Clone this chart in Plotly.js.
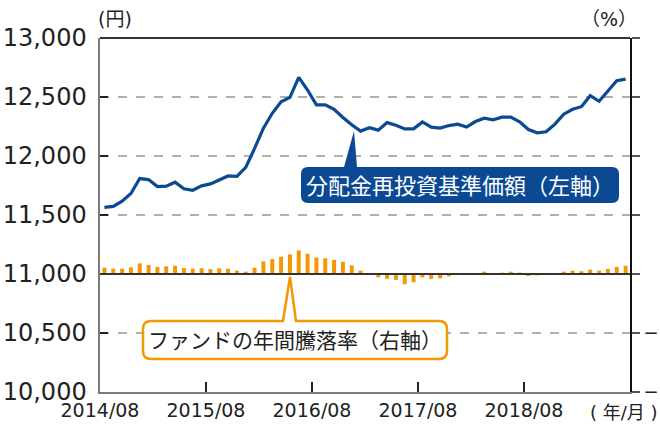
<!DOCTYPE html>
<html>
<head>
<meta charset="utf-8">
<script src="https://cdn.plot.ly/plotly-3.0.1.min.js"></script>
<style>html,body{margin:0;padding:0;background:#fff;}#chart{width:660px;height:425px;}</style>
</head>
<body>
<div id="chart"></div>
<script>
// ---- data ----
const months = [
 "2014/08","2014/09","2014/10","2014/11","2014/12","2015/01","2015/02","2015/03","2015/04","2015/05","2015/06","2015/07",
 "2015/08","2015/09","2015/10","2015/11","2015/12","2016/01","2016/02","2016/03","2016/04","2016/05","2016/06","2016/07",
 "2016/08","2016/09","2016/10","2016/11","2016/12","2017/01","2017/02","2017/03","2017/04","2017/05","2017/06","2017/07",
 "2017/08","2017/09","2017/10","2017/11","2017/12","2018/01","2018/02","2018/03","2018/04","2018/05","2018/06","2018/07",
 "2018/08","2018/09","2018/10","2018/11","2018/12","2019/01","2019/02","2019/03","2019/04","2019/05","2019/06","2019/07"
];
const navValues = [
 11564,11573,11617,11682,11809,11800,11741,11745,11778,11722,11710,11747,
 11764,11795,11831,11828,11904,12064,12236,12362,12460,12497,12666,12559,
 12433,12433,12396,12326,12264,12211,12239,12219,12283,12261,12230,12230,
 12289,12245,12236,12258,12270,12245,12292,12320,12306,12329,12329,12289,
 12224,12196,12205,12270,12354,12396,12418,12511,12464,12551,12638,12652
];
const returnValues = [
 1.6,1.35,1.35,1.7,2.7,2.3,1.8,1.95,2.1,1.5,1.35,1.45,
 1.25,1.45,1.35,0.85,0.6,1.6,3.2,3.8,4.4,5.0,6.0,5.15,
 4.2,4.0,3.6,3.1,2.2,0.85,0,-0.85,-1.2,-1.5,-2.6,-2.1,
 -0.85,-1.25,-1.1,-0.6,0,0.1,0.25,0.6,0.1,0.35,0.6,0.35,
 -0.5,-0.35,-0.25,0,0.6,0.85,0.7,1.1,0.85,1.3,1.8,2.1
];
const xTickLabels = ["2014/08","2015/08","2016/08","2017/08","2018/08"];
const leftTicks = [10000,10500,11000,11500,12000,12500,13000];
const rightTicks = [-30,-15,0,15,30,45,60];
const rightTickText = ["−","−","","","","",""];
const navName = "分配金再投資基準価額（左軸）";
const retName = "ファンドの年間騰落率（右軸）";

// ---- layout helpers (pixel -> data units for callout decorations) ----
const W = 660, H = 425, L = 100, R = 630, T = 38, B = 392;
const XMAX = months.length;
const px2x = p => (p - L) / (R - L) * XMAX;
const px2y = p => 13000 - (p - T) / (B - T) * 3000;
function pathFrom(pts) {
  let s = "";
  pts.forEach(p => {
    if (p[0] === "Z") { s += " Z"; return; }
    if (p[0] === "Q") { s += ` Q${px2x(p[1])},${px2y(p[2])} ${px2x(p[3])},${px2y(p[4])}`; return; }
    s += ` ${p[0]}${px2x(p[1])},${px2y(p[2])}`;
  });
  return s.trim();
}
function callout(l, r, t, b, rad, baseL, baseR, tipX, tipY) {
  return pathFrom([
    ["M", l + rad, t], ["L", baseL, t], ["L", tipX, tipY], ["L", baseR, t], ["L", r - rad, t],
    ["Q", r, t, r, t + rad], ["L", r, b - rad], ["Q", r, b, r - rad, b],
    ["L", l + rad, b], ["Q", l, b, l, b - rad], ["L", l, t + rad], ["Q", l, t, l + rad, t], ["Z"]
  ]);
}
const pxPaperX = p => (p - L) / (R - L);
const pxPaperY = p => (B - p) / (B - T);

const xs = months.map((m, i) => i + 0.5);
const FONT = "DejaVu Sans, Noto Sans CJK JP, sans-serif";
const BLUE = "#0b4a93", ORANGE = "#f39800";

const traces = [
  { type: "bar", x: xs, y: returnValues, yaxis: "y2", width: 0.45,
    marker: { color: ORANGE }, name: retName, hoverinfo: "skip" },
  { type: "scatter", mode: "lines", x: xs, y: navValues, yaxis: "y",
    line: { color: BLUE, width: 3.2 }, name: navName, hoverinfo: "skip" }
];

const layout = {
  width: W, height: H,
  margin: { l: L, r: W - R, t: T, b: H - B, pad: 0 },
  paper_bgcolor: "#fff", plot_bgcolor: "#fff",
  showlegend: false,
  font: { family: FONT, color: "#222" },
  xaxis: {
    range: [0, XMAX], tickvals: [0, 12, 24, 36, 48], ticktext: xTickLabels,
    ticks: "inside", ticklen: 10, tickwidth: 1.5, tickcolor: "#222",
    showline: true, linecolor: "#7a7a7a", linewidth: 2,
    showgrid: false, zeroline: false, tickfont: { size: 19, family: FONT, color: "#222" }
  },
  yaxis: {
    range: [10000, 13000], tickvals: leftTicks, tickformat: ",d",
    ticks: "inside", ticklen: 8, tickwidth: 2, tickcolor: "#222",
    showline: true, linecolor: "#7a7a7a", linewidth: 2.5,
    showgrid: true, gridcolor: "#b0b0b0", griddash: "dash", gridwidth: 1.2,
    zeroline: false, tickfont: { size: 24, family: FONT, color: "#222" }, ticklabelstandoff: 6
  },
  yaxis2: {
    overlaying: "y", side: "right", range: [-30, 60],
    tickvals: rightTicks, ticktext: rightTickText,
    ticks: "outside", ticklen: 8, tickwidth: 2, tickcolor: "#555",
    showline: true, linecolor: "#111", linewidth: 2,
    showgrid: false, zeroline: false, tickfont: { size: 18, family: FONT, color: "#222" }
  },
  shapes: [
    { type: "line", xref: "paper", yref: "paper", x0: 0, x1: 1, y0: 1, y1: 1, line: { color: "#333", width: 2 } },
    { type: "line", xref: "paper", yref: "y2", x0: 0, x1: 1, y0: 0, y1: 0, line: { color: "#333", width: 2 } },
    { type: "path", xref: "x", yref: "y", path: callout(301, 619, 167, 203, 7, 344, 357, 354, 131),
      fillcolor: BLUE, line: { width: 0 } },
    { type: "path", xref: "x", yref: "y", path: callout(143, 447, 321, 359, 8, 283, 296, 290, 277),
      fillcolor: "#fff", line: { color: ORANGE, width: 2.5 } }
  ],
  annotations: [
    { xref: "x", yref: "y", x: px2x(460), y: px2y(186), text: navName, showarrow: false,
      font: { size: 22, color: "#fff", family: FONT }, xanchor: "center", yanchor: "middle" },
    { xref: "x", yref: "y", x: px2x(295), y: px2y(341), text: retName, showarrow: false,
      font: { size: 21, color: "#222", family: FONT }, xanchor: "center", yanchor: "middle" },
    { xref: "paper", yref: "paper", x: pxPaperX(115), y: pxPaperY(19), text: "(円)",
      showarrow: false, font: { size: 19, family: FONT, color: "#222" }, xanchor: "center", yanchor: "middle" },
    { xref: "paper", yref: "paper", x: pxPaperX(609), y: pxPaperY(19), text: "（%）",
      showarrow: false, font: { size: 19, family: FONT, color: "#222" }, xanchor: "center", yanchor: "middle" },
    { xref: "paper", yref: "paper", x: pxPaperX(624), y: pxPaperY(412), text: "( 年/月 )",
      showarrow: false, font: { size: 18, family: FONT, color: "#222" }, xanchor: "center", yanchor: "middle" }
  ]
};

Plotly.newPlot("chart", traces, layout, { displayModeBar: false, staticPlot: true });
</script>
</body>
</html>
